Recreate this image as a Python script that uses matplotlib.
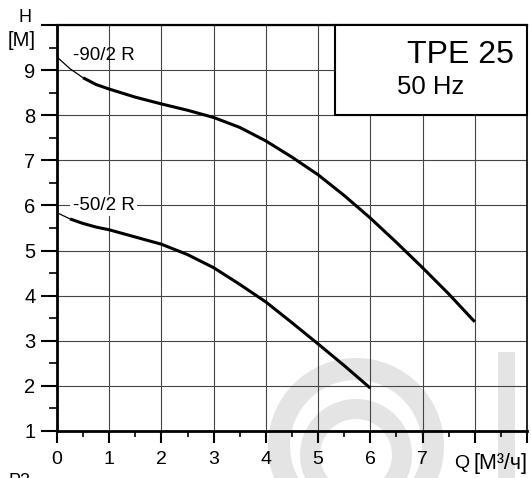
import matplotlib
matplotlib.use('Agg')
import matplotlib.pyplot as plt
from matplotlib import patches
from matplotlib.ticker import MultipleLocator

plt.rcParams['font.family'] = ['Liberation Sans', 'DejaVu Sans']

# pump curves, H [m] over Q [m3/h]
q_90 = [0, 0.25, 0.5, 0.75, 1, 1.5, 2, 2.5, 3, 3.5, 4, 4.5, 5, 5.5, 6, 6.5, 7, 7.5, 8]
h_90 = [9.29, 9.03, 8.83, 8.68, 8.58, 8.40, 8.25, 8.11, 7.95, 7.73, 7.43, 7.07, 6.68,
        6.22, 5.72, 5.18, 4.62, 4.04, 3.42]
q_50 = [0, 0.25, 0.5, 0.75, 1, 1.5, 2, 2.5, 3, 3.5, 4, 4.5, 5, 5.5, 6]
h_50 = [5.84, 5.70, 5.60, 5.52, 5.46, 5.30, 5.14, 4.91, 4.62, 4.25, 3.86, 3.40, 2.93,
        2.45, 1.95]
curve_names = ['-90/2 R', '-50/2 R']
x_ticks = [0, 1, 2, 3, 4, 5, 6, 7, 8, 9]
x_tick_labels = ['0', '1', '2', '3', '4', '5', '6', '7', '', '']
y_ticks = [1, 2, 3, 4, 5, 6, 7, 8, 9, 10]
y_tick_labels = ['1', '2', '3', '4', '5', '6', '7', '8', '9', '']

fig = plt.figure(figsize=(5.31, 4.78), dpi=100)

# faint logo in the background (pixel coordinates)
wm = fig.add_axes([0, 0, 1, 1], zorder=0)
wm.set_xlim(0, 531)
wm.set_ylim(478, 0)
wm.axis('off')
wm.add_patch(patches.Annulus((356, 446), 88, 22, color='#e4e4e4', lw=0))
wm.add_patch(patches.Annulus((356, 455), 56, 20, color='#e4e4e4', lw=0))
wm.add_patch(patches.Rectangle((498, 352), 17, 126, color='#e4e4e4', lw=0))

ax = fig.add_axes([57 / 531, 1 - 431 / 478, 470 / 531, 406 / 478], zorder=1)
ax.set_facecolor('none')
ax.set_xlim(0, 9)
ax.set_ylim(1, 10)

ax.set_xticks(x_ticks)
ax.set_xticklabels(x_tick_labels, fontsize=14)
ax.set_yticks(y_ticks)
ax.set_yticklabels(y_tick_labels, fontsize=14.5)
ax.xaxis.set_minor_locator(MultipleLocator(0.5))
ax.yaxis.set_minor_locator(MultipleLocator(0.5))
ax.tick_params(axis='x', which='major', direction='out', length=8.5, width=1.5, pad=6)
ax.tick_params(axis='x', which='minor', direction='out', length=4.5, width=1.2)
ax.tick_params(axis='y', which='major', direction='out', length=11.5, width=1.5, pad=4)
ax.tick_params(axis='y', which='minor', direction='out', length=5.5, width=1.2)

ax.grid(True, which='major', color='#444444', lw=0.8)
ax.set_axisbelow(True)
ax.spines['left'].set_linewidth(2)
ax.spines['bottom'].set_linewidth(2)
ax.spines['top'].set_linewidth(1.6)
ax.spines['right'].set_linewidth(1.2)

# title box in the top right corner
ax.add_patch(patches.Rectangle((5.33, 8), 3.67, 2, facecolor='white', edgecolor='black',
                               lw=1.5, zorder=3, clip_on=False))
ax.text(8.74, 9.33, 'TPE 25', fontsize=23, ha='right', va='center', zorder=4)
ax.text(6.51, 8.63, '50 Hz', fontsize=18.5, ha='left', va='center', zorder=4)

# curves: thin at the start, thick afterwards
for q, h, start in [(q_90, h_90, 2), (q_50, h_50, 1)]:
    ax.plot(q[:start + 1], h[:start + 1], color='black', lw=0.9, zorder=5)
    ax.plot(q[start:], h[start:], color='black', lw=2.2, zorder=5,
            solid_capstyle='butt', solid_joinstyle='round')

ax.text(0.3, 9.33, curve_names[0], fontsize=13.5, ha='left', va='center', zorder=6)
ax.text(0.3, 6.0, curve_names[1], fontsize=13.5, ha='left', va='center', zorder=6,
        bbox=dict(boxstyle='square,pad=0.12', facecolor='white', edgecolor='none'))

# axis titles
tr = ax.get_xaxis_transform()
ax.text(7.74, -0.079, 'Q', fontsize=14, ha='center', va='center', transform=tr,
        clip_on=False)
ax.text(7.98, -0.079, '[М³/ч]', fontsize=15.5, ha='left', va='center', transform=tr,
        clip_on=False)
fig.text(25 / 531, 1 - 17 / 478, 'H', fontsize=13, ha='center', va='center')
fig.text(22 / 531, 1 - 41 / 478, '[М]', fontsize=14.5, ha='center', va='center')
fig.text(8 / 531, 1 - 473 / 478, 'P2', fontsize=13, ha='left', va='top')

fig.savefig('out.png', dpi=100)
